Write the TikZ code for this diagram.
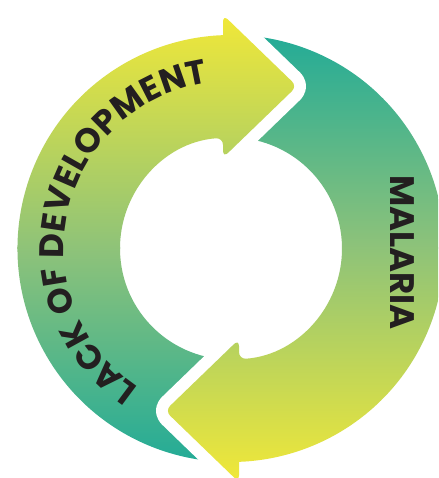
\documentclass[tikz,border=0pt]{standalone}
\usepackage{fontspec}
\newfontfamily\popfont{Poppins}
\usetikzlibrary{decorations.text}
\definecolor{ayel}{HTML}{F1E838}
\definecolor{amid}{HTML}{8CC27A}
\definecolor{ateal}{HTML}{14A89B}
\definecolor{atext}{HTML}{231F20}
\newcommand\arrowApath{(-8,213.35) [rounded corners=7pt] -- (-8,233.75) -- (66,162.25) -- (-8,90.75) -- (-8,110.71) [sharp corners] arc[start angle=94.13, end angle=300, radius=111] -- (300:213.5) arc[start angle=300, end angle=92.15, radius=213.5] -- cycle}
\newcommand\arrowBpath{(8,-213.35) [rounded corners=7pt] -- (8,-233.75) -- (-66,-162.25) -- (8,-90.75) -- (8,-110.71) [sharp corners] arc[start angle=274.13, end angle=480, radius=111] -- (120:213.5) arc[start angle=480, end angle=272.15, radius=213.5] -- cycle}
\tikzset{gapline/.style={draw=white, line width=24pt, line join=round},
  shadeA/.style={top color=ayel, bottom color=ateal, middle color=amid},
  shadeB/.style={top color=ateal, bottom color=ayel, middle color=amid},
  labelfont/.style={font=\popfont\bfseries\fontsize{34}{34}\selectfont}}
\begin{document}
\begin{tikzpicture}[x=1pt, y=1pt]
\useasboundingbox (-231,-229.5) rectangle (207,248.5);
\clip (-231,-229.5) rectangle (207,248.5);
% upper half: arrow A over tail of arrow B
\begin{scope}
\clip (-240,-0.5) rectangle (240,260);
\shade[shadeB] \arrowBpath;
\path[gapline] \arrowApath;
\shade[shadeA] \arrowApath;
\end{scope}
% lower half: arrow B over tail of arrow A
\begin{scope}
\clip (-240,0.5) rectangle (240,-260);
\shade[shadeA] \arrowApath;
\path[gapline] \arrowBpath;
\shade[shadeB] \arrowBpath;
\end{scope}
\path[labelfont, decorate, decoration={text effects along path, text={LACK OF DEVELOPMENT}, text align=center,
  text effects/.cd, character widths={inner xsep=0.2pt}, characters={text along path, text=atext}}]
  (265:167) arc[start angle=265, end angle=69, radius=167];
\node[labelfont, text=atext, rotate=-90, inner sep=0pt] (mal) at (171,-4) {MALARIA};
\end{tikzpicture}
\end{document}
